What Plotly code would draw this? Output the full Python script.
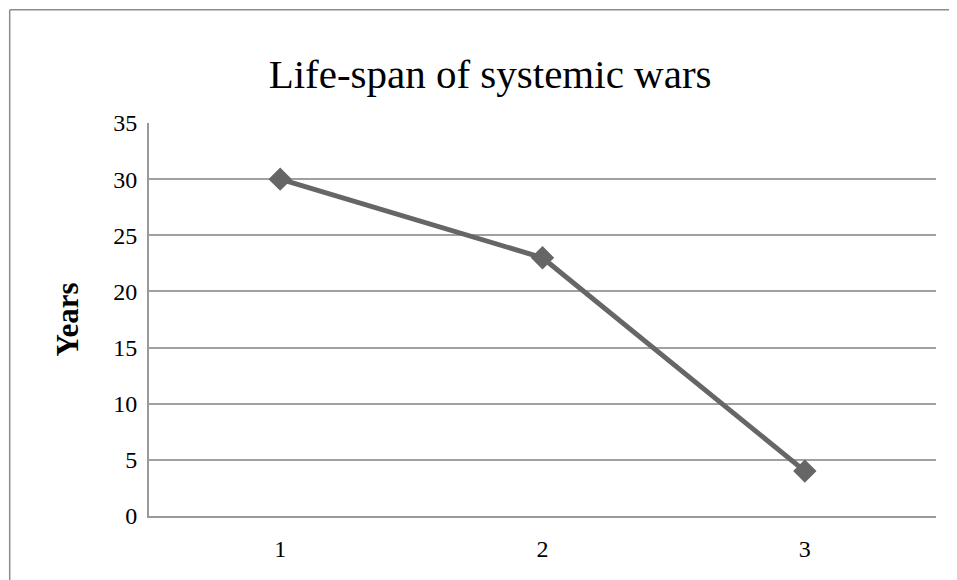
import plotly.graph_objects as go

categories = ["1", "2", "3"]
years = [30, 23, 4]
y_ticks = [0, 5, 10, 15, 20, 25, 30, 35]

SERIF = "'Liberation Serif', 'DejaVu Serif', serif"

fig = go.Figure()
fig.add_trace(go.Scatter(
    x=categories, y=years, mode="lines+markers",
    line=dict(color="#666666", width=5),
    marker=dict(symbol="diamond", size=18, color="#666666"),
    showlegend=False, hoverinfo="skip",
))

# outer chart frame: only the left and top edges are inside the picture
frame = dict(color="#8c8c8c", width=1.5)
fig.add_shape(type="line", xref="paper", yref="paper",
              x0=-0.177, x1=-0.177, y0=-0.3, y1=1.288, line=frame)
fig.add_shape(type="line", xref="paper", yref="paper",
              x0=-0.177, x1=1.2, y0=1.288, y1=1.288, line=frame)

# page has an 8px body margin, so the figure is sized to fit inside it
fig.update_layout(
    width=949, height=572,
    margin=dict(l=141, r=21, t=115, b=64, autoexpand=False),
    paper_bgcolor="white", plot_bgcolor="white",
    title=dict(text="Life-span of systemic wars", x=0.508, xanchor="center",
               y=0.885, yanchor="middle",
               font=dict(family=SERIF, size=41, color="black")),
    font=dict(family=SERIF, color="black"),
)
fig.update_xaxes(type="category", range=[-0.5, 2.5], showgrid=False,
                 showline=True, linecolor="#999999", linewidth=2,
                 ticks="", tickfont=dict(size=24), ticklabelstandoff=10)
fig.update_yaxes(range=[0, 35], tickvals=y_ticks, showgrid=True,
                 gridcolor="#a0a0a0", gridwidth=2, zeroline=False,
                 showline=True, linecolor="#999999", linewidth=2,
                 ticks="", tickfont=dict(size=24), ticklabelstandoff=5,
                 title=dict(text="<b>Years</b>", font=dict(size=31), standoff=25))

fig.write_html("out.html")
